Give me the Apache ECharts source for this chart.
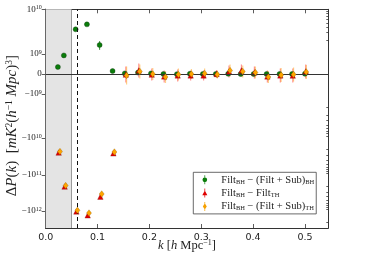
<!DOCTYPE html>
<html><head><meta charset="utf-8">
<script src="https://cdn.jsdelivr.net/npm/echarts@6/dist/echarts.min.js"></script>
<style>html,body{margin:0;padding:0;background:#fff}#c{width:365px;height:256px}</style>
</head><body><div id="c"></div>
<script>
// ---- data (values in units of 1e9 mK^2 (h^-1 Mpc)^3) ----
const kGreen  = [0.0235,0.035,0.0577,0.0795,0.104,0.129,0.1525,0.178,0.203,0.227,0.253,0.278,0.303,0.328,0.352,0.376,0.401,0.426,0.451,0.475,0.500];
const kRed    = [0.0250,0.0365,0.0592,0.0810,0.1055,0.1305,0.1545,0.1795,0.2045,0.2285,0.2545,0.2795,0.3045,0.3295,0.3535,0.3775,0.4025,0.4275,0.4525,0.4765,0.5015];
const kOrange = [0.0275,0.0385,0.0612,0.0835,0.1080,0.1325,0.1560,0.1815,0.2065,0.2310,0.2560,0.2810,0.3065,0.3310,0.3555,0.3800,0.4045,0.4295,0.4540,0.4780,0.5025];
const valGreen  = [0.35,0.93,3.57,4.6,1.59,0.15, 0.03,0.07,0.03,0.0,-0.01,0.01,0.0,0.0,0.01,0.0,0.0,0.0,0.0,0.0,0.01];
const errGreen  = [0.03,0.05,0.15,0.2,0.35,0.05, 0.08,0.08,0.07,0.07,0.06,0.06,0.06,0.05,0.06,0.06,0.06,0.07,0.07,0.08,0.08];
const valRed    = [-24.8,-210,-1030,-1320,-400,-26, -0.03,0.18,-0.03,-0.12,-0.07,-0.07,-0.07,0.0,0.12,0.18,0.08,-0.12,-0.07,-0.08,0.13];
const errRed    = [2,15,60,80,30,2, 0.4,0.35,0.3,0.3,0.3,0.25,0.25,0.2,0.3,0.3,0.3,0.3,0.35,0.35,0.35];
const valOrange = [-23.3,-197,-960,-1140,-337,-23.9, -0.07,0.13,0.0,-0.15,-0.03,0.0,0.03,-0.02,0.17,0.13,0.07,-0.15,-0.05,-0.02,0.10];
const errOrange = [2,15,60,80,30,2, 0.45,0.35,0.3,0.3,0.3,0.25,0.25,0.2,0.3,0.3,0.3,0.3,0.35,0.35,0.35];
const yTickVals = [1e10,1e9,0,-1e9,-1e10,-1e11,-1e12];
const yTickLabels = ['{m|10}{p|10}','{m|10}{p|9}','{m|0}','{m|−10}{p|9}','{m|−10}{p|10}','{m|−10}{p|11}','{m|−10}{p|12}'];
const SHADE_MAX = 0.0487;
const DASH_X = 0.0577;

// ---- symlog-like scale (value in 1e9 units -> axis coordinate) ----
const POS_DEC = [2.235];
const NEG_DEC = [2.2, 1.85, 1.8];
function T(y){
  const a = Math.abs(y);
  if (a <= 1) return y;
  let L = Math.log10(a), u = 1, i = 0;
  const w = y > 0 ? POS_DEC : NEG_DEC;
  while (L > 1e-12){ const s = Math.min(L,1); u += s*w[Math.min(i,w.length-1)]; L -= s; i++; }
  return y > 0 ? u : -u;
}
const Y_MIN = -7.7, Y_MAX = T(10);
const majorPos = yTickVals.map(v => T(v/1e9));
const minorPos = [];
[1,10,100,1000].forEach(d => { for (let m=2;m<=9;m++){ const v=m*d; if (T(v)<=Y_MAX) minorPos.push(T(v)); if (T(-v)>=Y_MIN) minorPos.push(T(-v)); } });

function pts(k, v){ return k.map((x,i)=>[x, T(v[i])]); }
function bars(k, v, e){ return k.map((x,i)=>[x, T(v[i]-e[i]), T(v[i]+e[i])]); }
function errSeries(data, color, w){
  return { type:'custom', data, clip:true, z:2, silent:true,
    encode:{x:0,y:[1,2]},
    renderItem:(p,api)=>{
      const a = api.coord([api.value(0), api.value(1)]);
      const b = api.coord([api.value(0), api.value(2)]);
      return {type:'line', shape:{x1:a[0],y1:a[1],x2:b[0],y2:b[1]}, style:{stroke:color, lineWidth:w}};
    }};
}

const serif = 'Liberation Serif, DejaVu Serif, serif';
const chart = echarts.init(document.getElementById('c'), null, {renderer:'canvas'});
const legendFmt = {
  bh_fs:  '{n|Filt}{s|BH}{n| − (Filt + Sub)}{s|BH}',
  bh_th:  '{n|Filt}{s|BH}{n| − Filt}{s|TH}',
  bh_fsth:'{n|Filt}{s|BH}{n| − (Filt + Sub)}{s|TH}'
};
const iconCircle = 'path://M4.6,0L5.4,0L5.4,10L4.6,10Z M7.6,5A2.6,2.6 0 1 1 2.4,5A2.6,2.6 0 1 1 7.6,5Z';
const iconTri = 'path://M4.6,0L5.4,0L5.4,10L4.6,10Z M5,2.2L7.8,7.4L2.2,7.4Z';
const iconDia = 'path://M4.6,0L5.4,0L5.4,10L4.6,10Z M5,1.6L7.2,5L5,8.4L2.8,5Z';

function yAxisDef(pos, vals, len, labels){
  return { type:'value', position:pos, min:Y_MIN, max:Y_MAX,
    axisLine:{show:true, lineStyle:{color:'#333', width:1}},
    splitLine:{show:false},
    axisTick:{show:true, inside:true, length:len, customValues:vals, lineStyle:{color:'#333', width:0.8}},
    axisLabel: labels ? { show:true, customValues:vals, margin:4,
      formatter:(v)=>{ let bi=0; for(let i=1;i<vals.length;i++) if(Math.abs(vals[i]-v)<Math.abs(vals[bi]-v)) bi=i; return yTickLabels[bi]; },
      rich:{ m:{fontSize:9, fontFamily:serif, color:'#222'}, p:{fontSize:6, fontFamily:serif, color:'#222', verticalAlign:'top'} } } : {show:false},
  };
}

const option = {
  animation:false,
  backgroundColor:'#fff',
  grid:{left:45.7, right:36.7, top:9.3, bottom:28, containLabel:false, outerBoundsMode:'none'},
  legend:{
    orient:'vertical', left:193.3, top:172.3,
    borderColor:'#444', borderWidth:0.8, backgroundColor:'#fff',
    padding:[2,2,2,9], itemWidth:9, itemHeight:9, itemGap:2.3,
    itemStyle:{borderWidth:0},
    data:[{name:'bh_fs', icon:iconCircle, itemStyle:{color:'#0a7d0a', borderWidth:0}},
          {name:'bh_th', icon:iconTri, itemStyle:{color:'#e00000', borderWidth:0}},
          {name:'bh_fsth', icon:iconDia, itemStyle:{color:'#f5a000', borderWidth:0}}],
    formatter:(n)=>legendFmt[n],
    textStyle:{ padding:[0,0,0,7], rich:{ n:{fontSize:10.5, lineHeight:11, fontFamily:serif, color:'#222'}, s:{fontSize:6.5, fontFamily:serif, color:'#222', verticalAlign:'bottom'} } }
  },
  xAxis:[
    { type:'value', position:'bottom', min:0, max:0.545, interval:0.1,
      axisLine:{show:true, onZero:false, lineStyle:{color:'#333', width:1}},
      splitLine:{show:false},
      axisTick:{inside:true, length:4, lineStyle:{color:'#333', width:0.8}},
      axisLabel:{fontSize:9.5, fontFamily:'DejaVu Sans', color:'#222', margin:5, formatter:(v)=>v.toFixed(1), showMaxLabel:false},
      name:'{i|k} [{i|h} Mpc{p|−1}]', nameLocation:'middle', nameGap:11, nameMoveOverlap:false,
      nameTextStyle:{ rich:{ i:{fontSize:12.5, fontFamily:serif, fontStyle:'italic', color:'#222'}, p:{fontSize:8, fontFamily:serif, color:'#222', verticalAlign:'top'} }, fontSize:12.5, fontFamily:serif, color:'#222' }
    },
    { type:'value', position:'top', min:0, max:0.545, interval:0.1,
      axisLine:{show:true, onZero:false, lineStyle:{color:'#333', width:1}},
      splitLine:{show:false},
      axisTick:{inside:true, length:4, lineStyle:{color:'#333', width:0.8}},
      axisLabel:{show:false}
    }
  ],
  yAxis:[
    Object.assign(yAxisDef('left', majorPos, 4, true), {
      name:'{n|Δ}{i|P}{n|(}{i|k}{n|)  [}{i|mK}{p|2}{n|(}{i|h}{p|−1}{i| Mpc}{n|)}{p|3}{n|]}', nameLocation:'middle', nameGap:26, nameRotate:90, nameMoveOverlap:false,
      nameTextStyle:{ padding:[0,14,0,0], rich:{ n:{fontSize:15, fontFamily:serif, color:'#222'}, i:{fontSize:15, fontFamily:serif, fontStyle:'italic', color:'#222'}, p:{fontSize:9.5, fontFamily:serif, color:'#222', verticalAlign:'top'} } }
    }),
    yAxisDef('right', majorPos, 4, false),
    yAxisDef('left', minorPos, 2, false),
    yAxisDef('right', minorPos, 2, false)
  ],
  series:[
    { type:'line', data:[], silent:true,
      markArea:{silent:true, itemStyle:{color:'#e4e4e4'}, data:[[{xAxis:0},{xAxis:SHADE_MAX}]]},
      markLine:{silent:true, symbol:'none', label:{show:false}, animation:false,
        data:[
          {xAxis:SHADE_MAX, lineStyle:{color:'#999', width:1, type:'solid'}},
          {xAxis:DASH_X, lineStyle:{color:'#111', width:1, type:[4,3]}},
          {yAxis:0, lineStyle:{color:'#333', width:1, type:'solid'}}
        ]}
    },
    errSeries(bars(kGreen, valGreen, errGreen), '#2e8b2e', 1),
    errSeries(bars(kRed, valRed, errRed), 'rgba(255,60,60,0.55)', 1.2),
    errSeries(bars(kOrange, valOrange, errOrange), 'rgba(255,170,40,0.55)', 1.2),
    { name:'bh_fs', type:'scatter', data:pts(kGreen, valGreen), symbol:'circle', symbolSize:5, z:3,
      itemStyle:{color:'#0a7d0a', borderColor:'#1a3a1a', borderWidth:0.4, opacity:1} },
    { name:'bh_th', type:'scatter', data:pts(kRed, valRed), symbol:'triangle', symbolSize:[5.5,5.5], z:4,
      itemStyle:{color:'#e00000', borderColor:'#700', borderWidth:0.3, opacity:1} },
    { name:'bh_fsth', type:'scatter', data:pts(kOrange, valOrange), symbol:'diamond', symbolSize:[5,6.5], z:5,
      itemStyle:{color:'#ffa500', borderColor:'#7a5000', borderWidth:0.3, opacity:1} }
  ]
};
chart.setOption(option);
</script>
</body></html>
